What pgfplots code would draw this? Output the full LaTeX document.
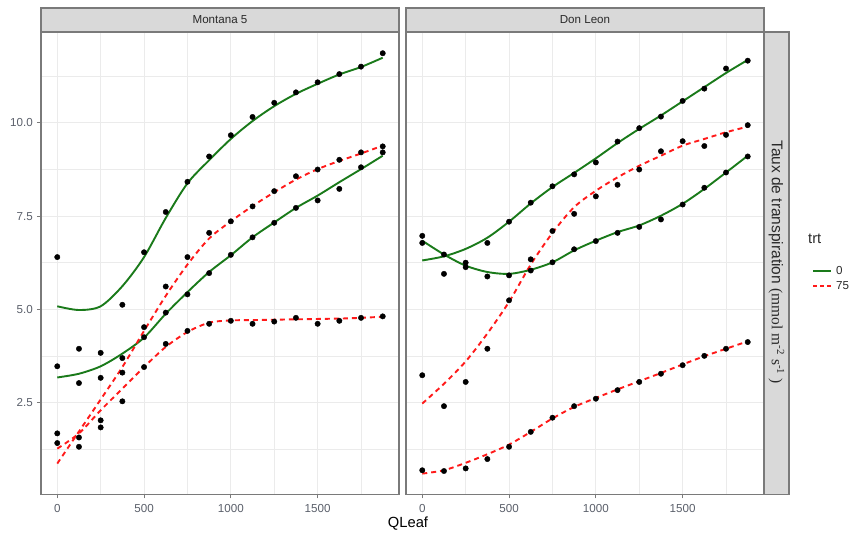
\documentclass[border=0pt]{standalone}
\usepackage{fontspec}
\setmainfont{Liberation Sans}
\newfontfamily\seriffont{Liberation Serif}
\usepackage{pgfplots}
\pgfplotsset{compat=1.18}
\definecolor{framec}{HTML}{7A7A7A}
\definecolor{stripc}{HTML}{D9D9D9}
\definecolor{gridc}{HTML}{EBEBEB}
\definecolor{tickc}{HTML}{5A5F6A}
\definecolor{stript}{HTML}{2A2A2A}
\definecolor{lgreen}{HTML}{1A7A1A}
\definecolor{lred}{HTML}{FF1A1A}
\pgfplotsset{
 panel/.style={
  scale only axis, width=358pt, height=462.5pt,
  xmin=-93.75, xmax=1968.75, ymin=0.03, ymax=12.44,
  xtick={0,500,1000,1500}, minor xtick={250,750,1250,1750},
  ytick={2.5,5,7.5,10}, minor ytick={1.25,3.75,6.25,8.75,11.25},
  grid=both,
  major grid style={line width=1.1pt, draw=gridc},
  minor grid style={line width=0.55pt, draw=gridc},
  axis line style={draw=framec, line width=1.4pt},
  tick align=outside, tick pos=left,
  major tick length=4pt, minor tick length=0pt,
  tick style={draw=framec, line width=1pt},
  tick label style={font=\fontsize{11.6}{13}\selectfont, text=tickc, inner sep=0pt},
  /pgf/number format/assume math mode=true,
  /pgf/number format/1000 sep={},
  xticklabel style={anchor=north, yshift=-5.5pt},
  yticklabel style={anchor=east, xshift=-4pt, /pgf/number format/fixed, /pgf/number format/fixed zerofill, /pgf/number format/precision=1},
 },
 g/.style={draw=lgreen, line width=1.9pt, smooth, no marks},
 r/.style={draw=lred, line width=1.9pt, dash pattern=on 5pt off 4pt, smooth, no marks},
 pts/.style={only marks, mark=*, mark size=2.7pt, mark options={fill=black, draw=black}},
}
\begin{document}
\begin{tikzpicture}
\path[use as bounding box] (0,0) rectangle (855pt,534pt);
% Montana 5
\begin{axis}[panel, at={(41pt,39.5pt)}, anchor=south west]
\addplot[pts] coordinates {
(0,6.40)(0,3.47)(0,1.67)(0,1.41)
(125,3.94)(125,3.02)(125,1.56)(125,1.31)
(250,3.83)(250,3.16)(250,2.02)(250,1.83)
(375,5.12)(375,3.69)(375,3.30)(375,2.53)
(500,6.53)(500,4.52)(500,4.25)(500,3.45)
(625,7.61)(625,5.61)(625,4.91)(625,4.07)
(750,8.42)(750,6.40)(750,5.40)(750,4.42)
(875,9.10)(875,7.05)(875,5.97)(875,4.61)
(1000,9.67)(1000,7.36)(1000,6.46)(1000,4.69)
(1125,10.16)(1125,7.76)(1125,6.93)(1125,4.61)
(1250,10.54)(1250,8.17)(1250,7.32)(1250,4.67)
(1375,10.82)(1375,8.57)(1375,7.72)(1375,4.77)
(1500,11.09)(1500,8.75)(1500,7.92)(1500,4.61)
(1625,11.31)(1625,9.01)(1625,8.23)(1625,4.69)
(1750,11.51)(1750,9.21)(1750,8.81)(1750,4.77)
(1875,11.87)(1875,9.37)(1875,9.21)(1875,4.81)};
\addplot[g] coordinates {(0,5.08)(125,4.98)(250,5.08)(375,5.62)(500,6.4)(625,7.45)(750,8.38)(875,9.0)(1000,9.57)(1125,10.05)(1250,10.45)(1375,10.78)(1500,11.05)(1625,11.3)(1750,11.5)(1875,11.75)};
\addplot[g] coordinates {(0,3.17)(125,3.27)(250,3.47)(375,3.81)(500,4.24)(625,4.88)(750,5.46)(875,6.0)(1000,6.45)(1125,6.93)(1250,7.33)(1375,7.72)(1500,8.05)(1625,8.41)(1750,8.76)(1875,9.12)};
\addplot[r] coordinates {(0,0.86)(125,1.72)(250,2.58)(375,3.45)(500,4.42)(625,5.36)(750,6.2)(875,6.9)(1000,7.36)(1125,7.77)(1250,8.14)(1375,8.48)(1500,8.76)(1625,8.98)(1750,9.18)(1875,9.39)};
\addplot[r] coordinates {(0,1.26)(125,1.67)(250,2.29)(375,2.87)(500,3.45)(625,3.99)(750,4.39)(875,4.64)(1000,4.70)(1125,4.71)(1250,4.72)(1375,4.73)(1500,4.74)(1625,4.75)(1750,4.77)(1875,4.80)};
\end{axis}
% Don Leon
\begin{axis}[panel, at={(406pt,39.5pt)}, anchor=south west, ymajorticks=false]
\addplot[pts] coordinates {
(0,6.97)(0,6.78)(0,3.23)(0,0.68)
(125,6.47)(125,5.95)(125,2.40)(125,0.66)
(250,6.25)(250,6.13)(250,3.05)(250,0.73)
(375,6.78)(375,5.88)(375,3.94)(375,0.98)
(500,7.35)(500,5.91)(500,5.24)(500,1.31)
(625,7.86)(625,6.34)(625,6.04)(625,1.71)
(750,8.30)(750,7.10)(750,6.26)(750,2.09)
(875,8.62)(875,7.56)(875,6.61)(875,2.40)
(1000,8.94)(1000,8.03)(1000,6.83)(1000,2.60)
(1125,9.50)(1125,8.34)(1125,7.05)(1125,2.83)
(1250,9.86)(1250,8.75)(1250,7.21)(1250,3.05)
(1375,10.17)(1375,9.24)(1375,7.41)(1375,3.27)
(1500,10.59)(1500,9.51)(1500,7.81)(1500,3.50)
(1625,10.92)(1625,9.38)(1625,8.26)(1625,3.75)
(1750,11.46)(1750,9.68)(1750,8.67)(1750,3.94)
(1875,11.67)(1875,9.94)(1875,9.10)(1875,4.12)};
\addplot[g] coordinates {(0,6.31)(125,6.42)(250,6.62)(375,6.92)(500,7.35)(625,7.84)(750,8.28)(875,8.66)(1000,9.05)(1125,9.46)(1250,9.84)(1375,10.2)(1500,10.58)(1625,10.96)(1750,11.34)(1875,11.69)};
\addplot[g] coordinates {(0,6.84)(125,6.47)(250,6.17)(375,6.0)(500,5.95)(625,6.06)(750,6.26)(875,6.58)(1000,6.84)(1125,7.07)(1250,7.25)(1375,7.51)(1500,7.83)(1625,8.23)(1750,8.67)(1875,9.12)};
\addplot[r] coordinates {(0,2.47)(125,3.0)(250,3.6)(375,4.35)(500,5.2)(625,6.2)(750,7.05)(875,7.74)(1000,8.18)(1125,8.54)(1250,8.85)(1375,9.12)(1500,9.39)(1625,9.57)(1750,9.75)(1875,9.90)};
\addplot[r] coordinates {(0,0.59)(125,0.68)(250,0.88)(375,1.11)(500,1.37)(625,1.71)(750,2.07)(875,2.38)(1000,2.62)(1125,2.85)(1250,3.07)(1375,3.29)(1500,3.52)(1625,3.74)(1750,3.94)(1875,4.14)};
\end{axis}
% strips
\draw[fill=stripc, draw=framec, line width=1.4pt] (41pt,502pt) rectangle (399pt,526pt);
\node[text=stript, font=\fontsize{11.6}{13}\selectfont] at (220pt,514pt) {Montana 5};
\draw[fill=stripc, draw=framec, line width=1.4pt] (406pt,502pt) rectangle (764pt,526pt);
\node[text=stript, font=\fontsize{11.6}{13}\selectfont] at (585pt,514pt) {Don Leon};
\draw[fill=stripc, draw=framec, line width=1.4pt] (764pt,39.5pt) rectangle (789pt,502pt);
\node[rotate=-90, text=stript, font=\fontsize{15.5}{17}\selectfont] at (776.5pt,272pt) {Taux de transpiration {\seriffont (mmol\ m\textsuperscript{-2}\ s\textsuperscript{-1}\ )}};
% axis title
\node[font=\fontsize{14.7}{16}\selectfont] at (408pt,10pt) {QLeaf};
% legend
\node[anchor=west, inner sep=0pt, font=\fontsize{14.7}{16}\selectfont, text=stript] at (808pt,295pt) {trt};
\draw[draw=lgreen, line width=1.9pt] (813pt,263pt) -- (831pt,263pt);
\node[anchor=west, inner sep=0pt, font=\fontsize{11.6}{13}\selectfont, text=stript] at (836pt,263pt) {0};
\draw[draw=lred, line width=1.9pt, dash pattern=on 4pt off 3pt] (813pt,248pt) -- (831pt,248pt);
\node[anchor=west, inner sep=0pt, font=\fontsize{11.6}{13}\selectfont, text=stript] at (836pt,248pt) {75};
\end{tikzpicture}
\end{document}
